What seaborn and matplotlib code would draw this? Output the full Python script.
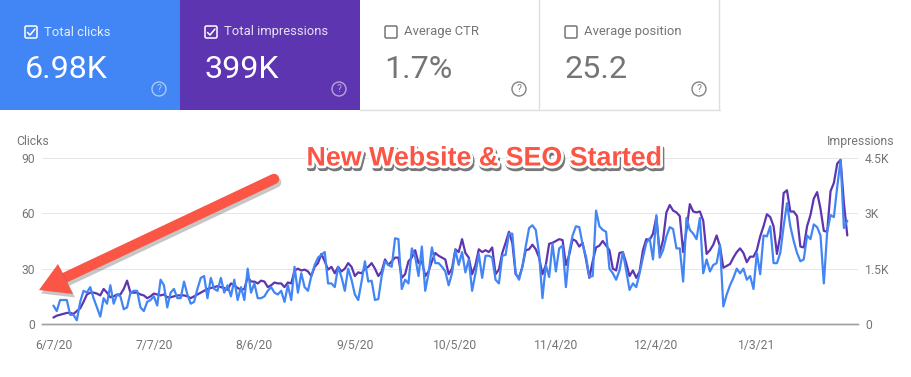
import matplotlib
matplotlib.use("Agg")
import matplotlib.pyplot as plt
import matplotlib.patheffects as pe
from matplotlib.patches import Rectangle, Circle, FancyBboxPatch, Polygon
import pandas as pd
import seaborn as sns

# Daily clicks
clicks = [10, 7, 13, 13, 13, 5, 5, 2, 12, 18, 17, 20, 14, 9, 4, 14, 11, 21, 11, 16,
          15, 8, 9, 17, 18, 18, 9, 7, 12, 13, 15, 10, 24, 21, 9, 17, 19, 14, 14, 23,
          16, 11, 12, 19, 25, 26, 14, 25, 19, 18, 25, 17, 21, 15, 24, 13, 20, 13, 30, 17,
          22, 14, 14, 15, 18, 20, 17, 16, 18, 12, 21, 13, 31, 17,
          27.5, 20, 18, 26, 32, 36, 37.5, 39, 22, 22, 20, 31, 25.5, 18, 30, 24, 16, 13, 23, 34,
          23, 23.5, 13, 13.5, 26, 34, 32, 31, 46.5, 46, 19, 24, 22, 41, 36.5, 26, 42, 18, 27.5, 41.5,
          33, 33, 31, 28.5, 21, 27.5, 40, 32, 39, 28, 35, 18, 27.5, 38, 25, 37, 37, 36, 24, 22,
          37, 37.5, 49, 49, 27.5, 24, 31, 42, 52, 53.5, 51, 38, 14, 32, 25.5, 43.5, 28.5, 41, 42.5, 20,
          39, 48, 53, 52.5, 43, 36.5, 25.5,
          26, 61.5, 53, 51, 50, 30, 27.5, 24, 29, 39, 29, 18.5, 22, 20, 27.5, 36, 44, 46.5, 35, 59,
          36, 40, 47.5, 52.5, 51.5, 41, 41, 23, 57.5, 51, 49, 46, 57.5, 27.5, 35, 28.5, 32, 33, 43, 9.5,
          16, 21, 25, 30, 27.5, 30, 24, 26, 19, 38.5, 27, 48, 47.5, 53, 33, 33, 38.5, 53, 65.5, 53,
          45, 38.5, 34, 35, 48, 46, 54, 52.5, 48, 22, 50, 59, 58, 74.5, 89, 52, 56]

# Daily impressions
impressions = [175, 225, 250, 275, 300, 300, 275, 350, 425, 600, 800, 850, 850, 825, 775, 950, 850, 725, 750, 800,
               800, 950, 1175, 850, 850, 850, 800, 775, 700, 750, 825, 800, 775, 800, 725, 725, 750, 775, 775, 775,
               750, 700, 750, 800, 850, 900, 950, 975, 1000, 1025, 1000, 975, 925, 1100, 1050, 975, 925, 950, 1275, 1150,
               1150, 1100, 1175, 1150, 1000, 1050, 1125, 1100, 1100, 1000, 1125, 1100, 1450,
               1500, 1450, 1475, 1425, 1300, 1550, 1650, 1900, 1700, 1475, 1550, 1375, 1550, 1425, 1500, 1650, 1550, 1300, 1400,
               1375, 1500, 1550, 1650, 1500, 1300, 1425, 1750, 1600, 1700, 1800, 1800, 1250, 1350, 1700, 1800, 2000, 1650, 1700, 1300,
               1425, 1700, 1925, 1850, 1800, 1750, 1350, 1500, 2025, 1950, 2300, 1925, 1800, 1350, 1600, 2025, 1950, 2000, 1950, 2075,
               1350, 1475, 1925, 2200, 2500, 2200, 1350, 1250, 1550, 2000, 2025, 2150, 2025, 1800, 1350, 1600, 2175, 2200, 2250, 2300,
               2275, 1600, 1875, 2300, 2250, 2100, 2200, 1750, 1250,
               1700, 2075, 2125, 2250, 2125, 2000, 1500, 1450, 1925, 1950, 1650, 1300, 1450, 1250, 1425, 2000, 2300, 2275, 2450, 2900,
               1925, 2275, 3025, 3225, 3075, 3025, 2925, 1950, 2550, 3250, 3050, 3025, 3050, 2800, 1900, 2000, 2150, 2400, 2100, 1525,
               1575, 1625, 1800, 1950, 2050, 1925, 1675, 1825, 1825, 2000, 2375, 2650, 2975, 2900, 2650, 1900, 2400, 3550, 3625, 3050,
               3050, 2925, 2100, 2075, 2650, 2950, 3400, 3575, 3125, 2525, 2500, 3600, 3825, 4350, 4450, 3275, 2400]

start_date = "2020-06-07"
date_ticks = ["2020-06-07", "2020-07-07", "2020-08-06", "2020-09-05", "2020-10-05", "2020-11-04", "2020-12-04", "2021-01-03"]
date_labels = ["6/7/20", "7/7/20", "8/6/20", "9/5/20", "10/5/20", "11/4/20", "12/4/20", "1/3/21"]
clicks_ticks = [0, 30, 60, 90]
impr_ticks = [0, 1500, 3000, 4500]
impr_labels = ["0", "1.5K", "3K", "4.5K"]

card_titles = ["Total clicks", "Total impressions", "Average CTR", "Average position"]
card_values = ["6.98K", "399K", "1.7%", "25.2"]

BLUE = "#4285F4"
PURPLE = "#5E35B1"
GREY = "#757575"
RED = "#FB5546"

sns.set_style("white")
plt.rcParams["font.family"] = ["Roboto", "DejaVu Sans"]

W, H = 912, 377
fig = plt.figure(figsize=(W / 100, H / 100), dpi=100)

ax = fig.add_axes([42 / W, (H - 324) / H, (858 - 42) / W, 166 / H])
ax2 = ax.twinx()

dates_c = pd.date_range(start_date, periods=len(clicks))
dates_i = pd.date_range(start_date, periods=len(impressions))
sns.lineplot(x=dates_c, y=clicks, ax=ax, color=BLUE, linewidth=1.6)
sns.lineplot(x=dates_i, y=impressions, ax=ax2, color=PURPLE, linewidth=1.6)

# clicks on top of impressions
ax.set_zorder(ax2.get_zorder() + 1)
ax.patch.set_visible(False)

ax.set_ylim(0, 90)
ax2.set_ylim(0, 4500)
ax.set_xlim(pd.Timestamp(start_date) - pd.Timedelta(days=3.4), pd.Timestamp(start_date) + pd.Timedelta(days=240.2))
ax.set_xticks(pd.to_datetime(date_ticks))
ax.set_xticklabels(date_labels, color=GREY, fontsize=8.7)
ax.set_yticks(clicks_ticks)
ax.set_yticklabels([str(v) for v in clicks_ticks], color=GREY, fontsize=8.7)
ax2.set_yticks(impr_ticks)
ax2.set_yticklabels(impr_labels, color=GREY, fontsize=8.7)
ax.tick_params(axis="x", length=0, pad=11)
ax.tick_params(axis="y", length=0, pad=5)
ax2.tick_params(axis="y", length=0, pad=5)
ax.set_xlabel("")
ax.set_ylabel("")
ax2.set_ylabel("")

ax2.yaxis.grid(True, color="#e6e6e6", linewidth=0.7)
ax2.set_axisbelow(True)
for a in (ax, ax2):
    for s in ["top", "left", "right"]:
        a.spines[s].set_visible(False)
    a.spines["bottom"].set_color("#a0a0a0")
    a.spines["bottom"].set_linewidth(1)

# overlay in pixel coordinates for the cards and annotations
ov = fig.add_axes([0, 0, 1, 1], zorder=10)
ov.set_xlim(0, W)
ov.set_ylim(H, 0)
ov.axis("off")
ov.patch.set_visible(False)

ov.text(16, 141.5, "Clicks", color=GREY, fontsize=8.8, va="center", ha="left")
ov.text(895, 141.5, "Impressions", color=GREY, fontsize=8.8, va="center", ha="right")

card_x = [0, 180, 360, 540]
card_bg = [BLUE, PURPLE, "white", "white"]
for i in range(4):
    x0 = card_x[i]
    filled = i < 2
    fg = "white" if filled else GREY
    ov.add_patch(Rectangle((x0, 0), 180, 110, facecolor=card_bg[i], edgecolor="none"))
    # checkbox
    ov.add_patch(FancyBboxPatch((x0 + 25, 26), 12, 12, boxstyle="round,pad=0,rounding_size=1.5",
                                facecolor="none", edgecolor=fg, linewidth=1.1))
    if filled:
        ov.plot([x0 + 27.5, x0 + 30, x0 + 35], [32.5, 35, 29], color="white", linewidth=1.1)
    ov.text(x0 + 44.5, 32, card_titles[i], color=fg, alpha=0.85 if filled else 1,
            fontsize=9.4, va="center", ha="left")
    ov.text(x0 + 24.5, 78.5, card_values[i], color=fg, fontsize=23.2, va="baseline", ha="left")
    # help icon
    ov.add_patch(Circle((x0 + 159, 89), 7, facecolor="none", edgecolor=fg, alpha=0.55 if filled else 0.9, linewidth=1))
    ov.text(x0 + 159, 89.5, "?", color=fg, alpha=0.55 if filled else 0.9, fontsize=7.5, va="center", ha="center")

ov.plot([539.5, 539.5], [0, 109], color="#dedede", linewidth=1)
ov.plot([719.5, 719.5], [0, 109], color="#dedede", linewidth=1)
ov.plot([360, 720], [109.5, 109.5], color="#dedede", linewidth=1)

# arrow
shadow = [pe.SimpleLineShadow(offset=(1.5, -2.5), shadow_color="#444444", alpha=0.3), pe.Normal()]
ov.plot([274, 62], [179, 279], color=RED, linewidth=7.5, solid_capstyle="round", path_effects=shadow, zorder=5)
ov.add_patch(Polygon([(39, 290), (58, 264), (73, 294)], closed=True, facecolor=RED, edgecolor="none", zorder=6,
                     path_effects=[pe.SimplePatchShadow(offset=(1.5, -2.5), shadow_rgbFace="#444444", alpha=0.3), pe.Normal()]))

# headline
ov.text(483.5, 158.5, "New Website & SEO Started", color=RED, fontsize=19.3, fontweight="bold",
        family="Liberation Sans", va="center", ha="center", zorder=7,
        path_effects=[pe.Stroke(linewidth=4, foreground="#777777", offset=(1, -2)),
                      pe.Stroke(linewidth=4, foreground="white"), pe.Normal()])

fig.savefig("out.png", dpi=100)
